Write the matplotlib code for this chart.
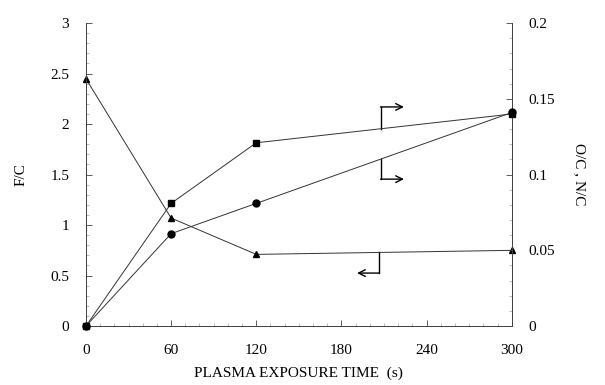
import matplotlib
matplotlib.use("Agg")
import matplotlib.pyplot as plt
from matplotlib.ticker import MultipleLocator

plt.rcParams['font.family'] = ['Liberation Serif', 'DejaVu Serif']

# exposure time (s)
t = [0, 60, 120, 300]
# F/C on left axis
fc = [2.45, 1.07, 0.71, 0.75]
# O/C and N/C on right axis
oc = [0.0, 0.081, 0.121, 0.140]
nc = [0.0, 0.061, 0.081, 0.141]

xticks = [0, 60, 120, 180, 240, 300]
left_ticks = [0, 0.5, 1, 1.5, 2, 2.5, 3]
left_labels = ['0', '0.5', '1', '1.5', '2', '2.5', '3']
right_ticks = [0, 0.05, 0.1, 0.15, 0.2]
right_labels = ['0', '0.05', '0.1', '0.15', '0.2']

fig = plt.figure(figsize=(6.05, 3.85), dpi=100)
ax = fig.add_axes([0.142, 0.153, 0.704, 0.787])
ax2 = ax.twinx()

lc = '#333333'
ax.plot(t, fc, color=lc, lw=0.7, marker='^', ms=4, mfc='black', mec='black', clip_on=False, zorder=3)
ax2.plot(t, oc, color=lc, lw=0.7, marker='s', ms=4, mfc='black', mec='black', clip_on=False, zorder=3)
ax2.plot(t, nc, color=lc, lw=0.7, marker='o', ms=5, mfc='black', mec='black', clip_on=False, zorder=3)

ax.set_xlim(0, 300)
ax.set_ylim(0, 3)
ax2.set_ylim(0, 0.2)

ax.set_xticks(xticks)
ax.set_xticklabels([str(v) for v in xticks])
ax.set_yticks(left_ticks)
ax.set_yticklabels(left_labels)
ax2.set_yticks(right_ticks)
ax2.set_yticklabels(right_labels)

ax.xaxis.set_minor_locator(MultipleLocator(10))
ax.yaxis.set_minor_locator(MultipleLocator(0.1))
ax2.yaxis.set_minor_locator(MultipleLocator(0.01))

for a in (ax, ax2):
    a.spines['top'].set_visible(False)
    for s in a.spines.values():
        s.set_linewidth(0.7)
        s.set_color('#444444')
    a.tick_params(which='major', direction='in', length=4, width=0.6, colors='#444444',
                  labelsize=11, labelcolor='black')
    a.tick_params(which='minor', direction='in', length=2, width=0.4, colors='#888888')

ax.tick_params(axis='x', pad=13)
ax.tick_params(axis='y', pad=12)
ax2.tick_params(axis='y', pad=12)

ax.set_xlabel('PLASMA EXPOSURE TIME  (s)', fontsize=11, labelpad=7)
ax.set_ylabel('F/C', fontsize=11, labelpad=16)
ax2.set_ylabel('O/C , N/C', fontsize=11, rotation=270, labelpad=22)

# bracket arrows pointing to the relevant axis
arr = dict(arrowstyle='->', lw=1.0, color='black', shrinkA=0, shrinkB=0, mutation_scale=12)
ax.plot([207.5, 207.5], [1.95, 2.17], color='black', lw=1.0)
ax.annotate('', xy=(224, 2.17), xytext=(207.5, 2.17), arrowprops=arr)
ax.plot([207.5, 207.5], [1.65, 1.455], color='black', lw=1.0)
ax.annotate('', xy=(224, 1.455), xytext=(207.5, 1.455), arrowprops=arr)
ax.plot([206.5, 206.5], [0.73, 0.525], color='black', lw=1.0)
ax.annotate('', xy=(191, 0.525), xytext=(206.5, 0.525), arrowprops=arr)

fig.savefig('out.png', dpi=100)
